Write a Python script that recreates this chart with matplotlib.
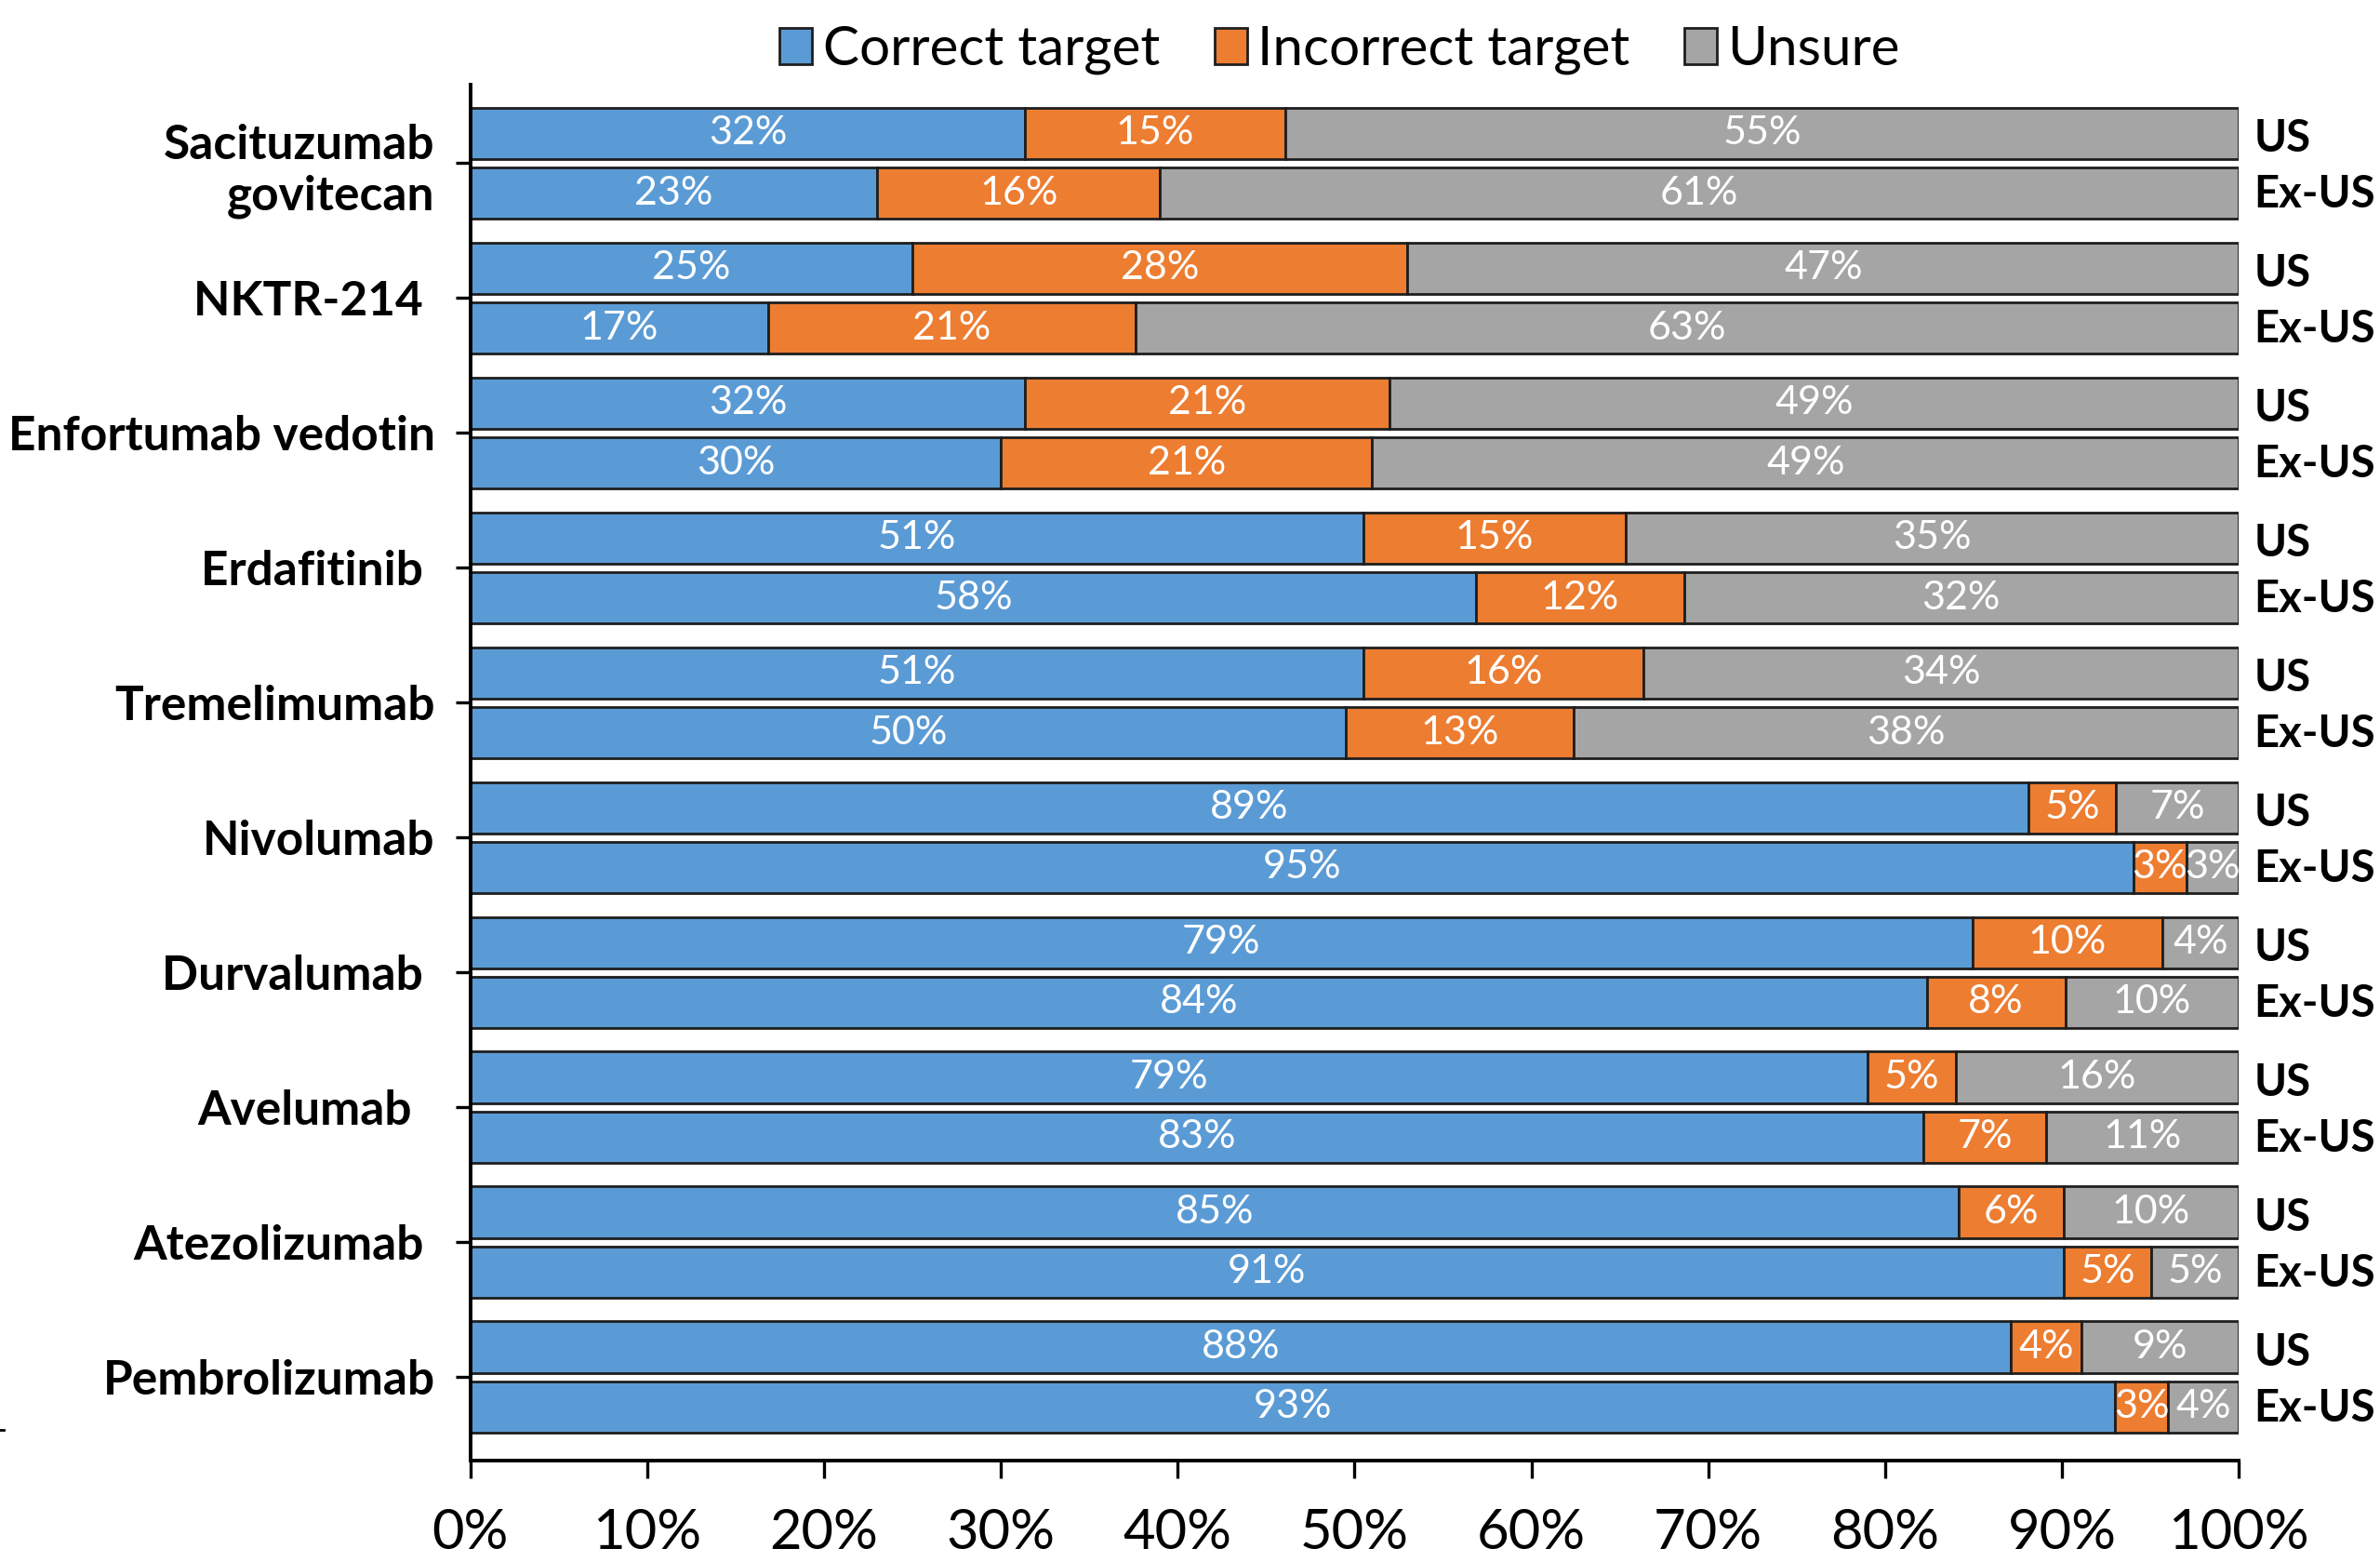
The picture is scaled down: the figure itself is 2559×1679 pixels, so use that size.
import numpy as np
import matplotlib
matplotlib.use("Agg")
import matplotlib.pyplot as plt
from matplotlib.lines import Line2D

plt.rcParams['font.family'] = ['Lato', 'DejaVu Sans']

# Survey responses: share of respondents naming each drug's target
drugs = ["Sacituzumab\ngovitecan", "NKTR-214 ", "Enfortumab vedotin", "Erdafitinib ",
         "Tremelimumab", "Nivolumab", "Durvalumab ", "Avelumab  ", "Atezolizumab ",
         "Pembrolizumab"]
regions = ["US", "Ex-US"]
series = ["Correct target", "Incorrect target", "Unsure"]

correct_us = [32, 25, 32, 51, 51, 89, 79, 79, 85, 88]
incorrect_us = [15, 28, 21, 15, 16, 5, 10, 5, 6, 4]
unsure_us = [55, 47, 49, 35, 34, 7, 4, 16, 10, 9]

correct_exus = [23, 17, 30, 58, 50, 95, 84, 83, 91, 93]
incorrect_exus = [16, 21, 21, 12, 13, 3, 8, 7, 5, 3]
unsure_exus = [61, 63, 49, 32, 38, 3, 10, 11, 5, 4]

colors = ["#5B9BD5", "#ED7D31", "#A5A5A5"]
xticks = [0, 10, 20, 30, 40, 50, 60, 70, 80, 90, 100]

fig = plt.figure(figsize=(25.59, 16.79), dpi=100)
ax = fig.add_axes([0.1977, 0.0649, 0.9406 - 0.1977, 0.946 - 0.0649])

idx = np.arange(len(drugs))
offset = 0.222
height = 0.38

groups = [
    (idx - offset, [correct_us, incorrect_us, unsure_us]),
    (idx + offset, [correct_exus, incorrect_exus, unsure_exus]),
]

handles = []
for ypos, vals in groups:
    vals = np.array(vals, dtype=float)
    totals = vals.sum(axis=0)
    shares = vals / totals * 100  # 100% stacked
    left = np.zeros(len(drugs))
    for k in range(3):
        bars = ax.barh(ypos, shares[k], left=left, height=height, color=colors[k],
                       edgecolor="#1e1e1e", linewidth=2.0, label=series[k])
        ax.bar_label(bars, labels=[f"{int(v)}%" for v in vals[k]], label_type="center",
                     color="white", fontsize=31)
        left += shares[k]
        if len(handles) < 3:
            handles.append(bars)

# Region labels on the right of each bar
for ypos, reg in zip([idx - offset, idx + offset], regions):
    for y in ypos:
        ax.annotate(reg, xy=(1, y), xycoords=("axes fraction", "data"),
                    xytext=(12, -4 if reg == "US" else -1), textcoords="offset points",
                    ha="left", va="center", fontsize=34, fontweight="bold",
                    annotation_clip=False)

ax.set_xlim(0, 100)
ax.set_ylim(9.62, -0.585)
ax.set_xticks(xticks)
ax.set_xticklabels([f"{t}%" for t in xticks])
ax.set_yticks(idx)
ax.set_yticklabels(drugs, fontweight="bold")

for s in ["top", "right"]:
    ax.spines[s].set_visible(False)
for s in ["left", "bottom"]:
    ax.spines[s].set_linewidth(2.8)
    ax.spines[s].set_color("black")

ax.tick_params(axis="x", direction="out", length=14, width=2.4, pad=23, labelsize=43)
ax.tick_params(axis="y", direction="out", length=11.5, width=2.4, pad=16, labelsize=37)

leg = fig.legend(handles=handles, labels=series, loc="center", bbox_to_anchor=(0.563, 0.968),
                 ncol=3, frameon=False, fontsize=42, handlelength=0.6, handleheight=0.65,
                 handletextpad=0.2, columnspacing=1.0, borderaxespad=0)

fig.add_artist(Line2D([0.0, 0.0016], [0.0846, 0.0846], transform=fig.transFigure,
                      color="black", linewidth=2))

fig.savefig("out.png", dpi=100)
